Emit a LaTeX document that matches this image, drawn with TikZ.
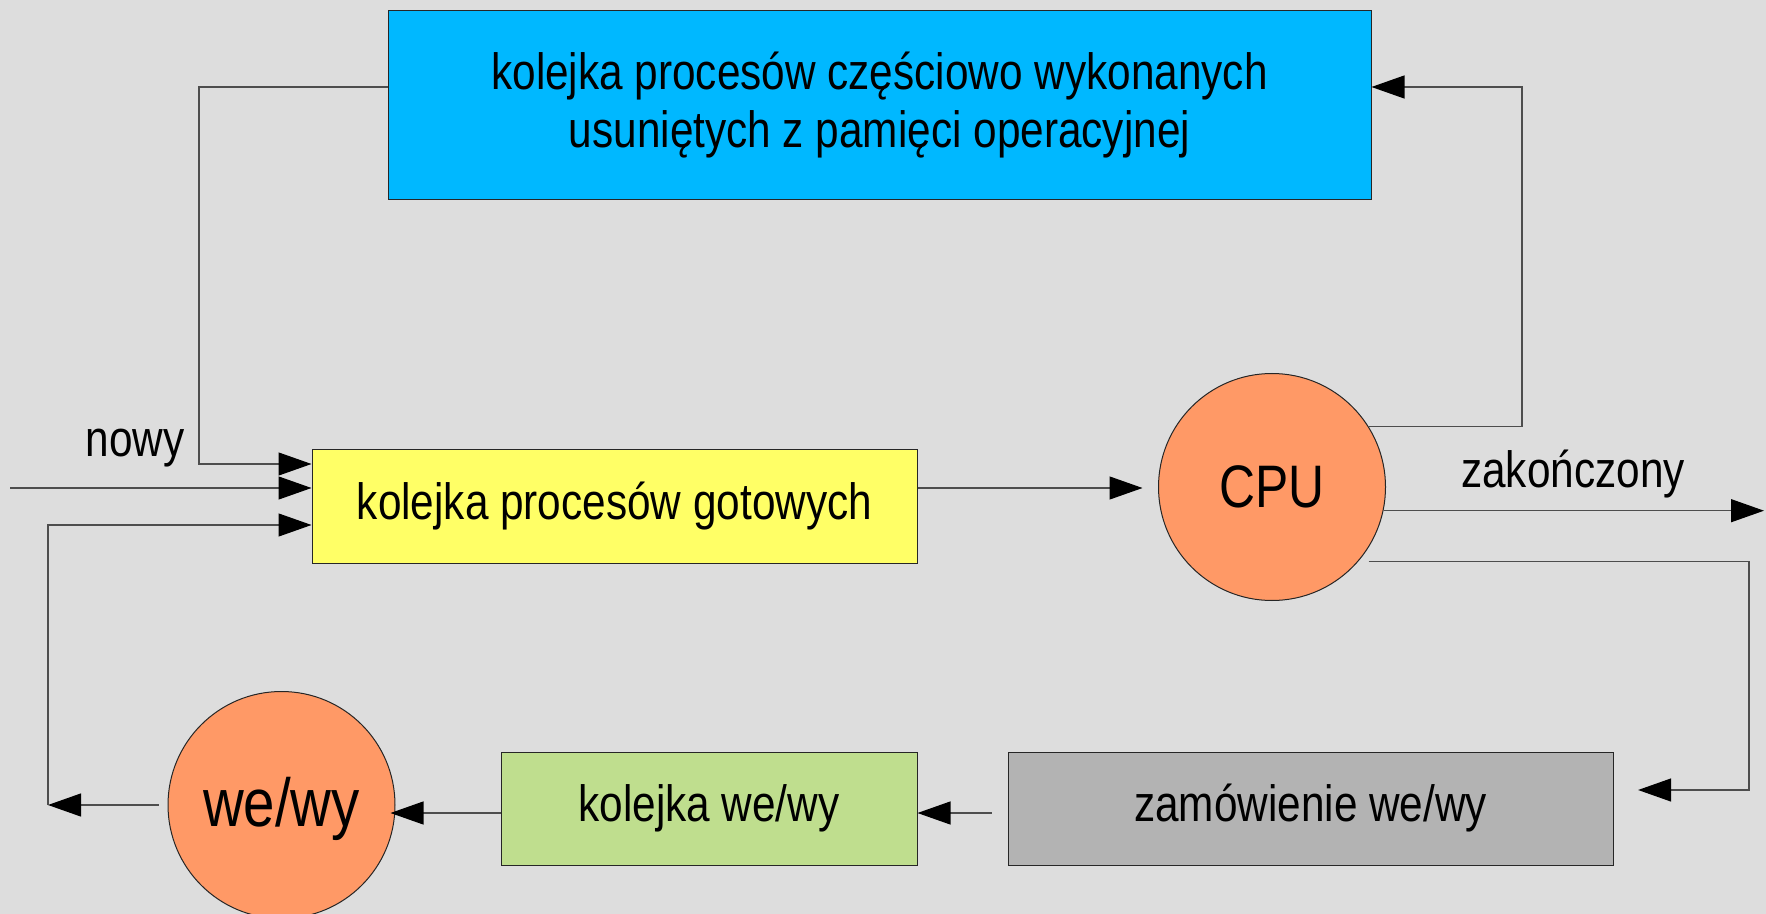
\documentclass[tikz,border=0pt]{standalone}
\usepackage{fontspec}
\setmainfont{Liberation Sans}[FakeStretch=0.83]
\usetikzlibrary{arrows.meta}
\definecolor{bgcol}{HTML}{DDDDDD}
\definecolor{swapcol}{HTML}{00B8FF}
\definecolor{readycol}{HTML}{FFFF66}
\definecolor{unitcol}{HTML}{FF9966}
\definecolor{iocol}{HTML}{BFDE8E}
\definecolor{reqcol}{HTML}{B3B3B3}
\definecolor{linecol}{HTML}{4D4D4D}
\newcommand\boxfont{\fontsize{25.5}{29}\selectfont}
\begin{document}
\begin{tikzpicture}[x=0.5pt,y=-0.5pt,
  box/.style={rectangle,draw=black!85,line width=0.5pt,inner sep=0pt,font=\boxfont,align=center},
  unit/.style={circle,draw=black!85,line width=0.5pt,fill=unitcol,inner sep=0pt,minimum size=113.5pt},
  arr/.style={draw=linecol,line width=0.6pt,-{Triangle[length=16.5pt,width=11.5pt,color=black]}},
  lbl/.style={font=\boxfont,anchor=base,inner sep=0pt}]
% canvas
\fill[bgcol] (0,0) rectangle (1766,914);
\useasboundingbox (0,0) rectangle (1766,914);

% queues and units
\node[box,fill=swapcol,minimum width=491.5pt,minimum height=94.5pt] (swapq) at (879.5,105.5)
  {kolejka procesów częściowo wykonanych\\usuniętych z pamięci operacyjnej};
\node[box,fill=readycol,minimum width=302.5pt,minimum height=57pt] (ready) at (614.5,506)
  {kolejka procesów gotowych};
\node[unit,font=\fontsize{30}{36}\selectfont] (cpu) at (1272,487) {CPU};
\node[box,fill=reqcol,minimum width=302.5pt,minimum height=56.5pt] (ioreq) at (1310.5,808.5)
  {zamówienie we/wy};
\node[box,fill=iocol,minimum width=208pt,minimum height=56.5pt] (ioq) at (709,808.5)
  {kolejka we/wy};
\node[unit,font=\fontsize{34}{40}\selectfont,text height=24.8pt,text depth=3.1pt] (io) at (281.5,805) {we/wy};

% helper points for the routed connectors
\coordinate (newin) at (10,488);
\coordinate (swapbend) at (199,464);
\coordinate (swapret) at (1522,87);
\coordinate (done) at (1764,510);
\coordinate (reqret) at (1749,790);
\coordinate (ioline) at (0,813);
\coordinate (iobend) at (48,805);
\coordinate (retin) at (48,525);

% labels
\node[lbl] (newlbl) at (135,457) {nowy};
\node[lbl] (donelbl) at (1573,487) {zakończony};

% connectors
\draw[arr] (newin) -- (ready.west |- newin);
\draw[arr] (swapq.west |- swapret) -| (swapbend) -- (ready.west |- swapbend);
\draw[arr] (ready.east |- newin) -- ([xshift=-7.75pt]cpu.west |- newin);
\draw[arr] (cpu.32) -| (swapret) -- (swapq.east |- swapret);
\draw[arr] (cpu.-12) -- (cpu.-12 -| done);
\draw[arr] (cpu.32 |- cpu.-41) -| (reqret) -- ([xshift=12.3pt]ioreq.east |- reqret);
\draw[arr] ([xshift=-8pt]ioreq.west |- ioline) -- (ioq.east |- ioline);
\draw[arr] (ioq.west |- ioline) -- ([xshift=-2.5pt]io.east |- ioline);
\draw[arr] ([xshift=-4.5pt]io.west) -- (iobend);
\draw[arr] (iobend) -- (retin) -- (ready.west |- retin);
\end{tikzpicture}
\end{document}
